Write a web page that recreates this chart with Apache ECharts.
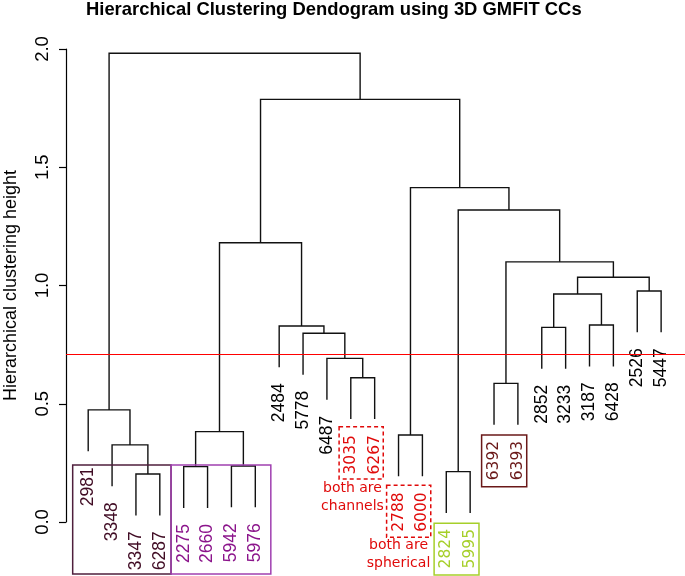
<!DOCTYPE html>
<html><head><meta charset="utf-8">
<script src="https://cdn.jsdelivr.net/npm/echarts@6/dist/echarts.min.js"></script>
<style>html,body{margin:0;padding:0;background:#fff}#c{width:685px;height:576px}</style>
</head><body><div id="c"></div>
<script>
// ---- data ----
const leafLabels = ['2981','3348','3347','6287','2275','2660','5942','5976','2484','5778','6487','3035','6267','2788','6000','2824','5995','6392','6393','2852','3233','3187','6428','2526','5447'];
const leafGroup  = ['g1','g1','g1','g1','g2','g2','g2','g2','n','n','n','red','red','red','red','green','green','brown','brown','n','n','n','n','n','n'];
// merges (R hclust style): negative = leaf position (1-based), positive = earlier merge
const mergeLeft   = [-3,-2,-1,-5,-7,4,-12,-11,-10,-9,6,-14,-16,-18,-20,-22,15,-24,17,14,13,12,11,3];
const mergeRight  = [-4,1,2,-6,-8,5,-13,7,8,9,10,-15,-17,-19,-21,-23,16,-25,18,19,20,21,22,23];
const mergeHeight = [0.203,0.326,0.474,0.234,0.237,0.382,0.610,0.692,0.798,0.829,1.181,0.368,0.213,0.586,0.823,0.833,0.964,0.977,1.035,1.100,1.319,1.414,1.787,1.982];
const hang = 0.175;
const cutHeight = 0.706;
const yTicks = [0, 0.5, 1.0, 1.5, 2.0];
const noteText = ['both are\nchannels', 'both are\nspherical'];

// ---- styles / annotation placement ----
const groupStyle = {
  g1:   {color:'#400c24', font:'17.5px "Liberation Sans", Arial, sans-serif'},
  g2:   {color:'#8b148b', font:'17.5px "Liberation Sans", Arial, sans-serif'},
  n:    {color:'#000000', font:'17.5px "Liberation Sans", Arial, sans-serif'},
  red:  {color:'#e00a0a', font:'15.5px "DejaVu Sans", sans-serif'},
  green:{color:'#a6cf2a', font:'15.5px "DejaVu Sans", sans-serif'},
  brown:{color:'#6a1818', font:'15.5px "DejaVu Sans", sans-serif'}
};
const boxes = [
  {x0:0.35, x1:4.47, y0:0.241, y1:-0.220, color:'#4f1f3c', dash:null},
  {x0:4.47, x1:8.65, y0:0.241, y1:-0.220, color:'#a040b0', dash:null},
  {x0:11.51, x1:13.36, y0:0.403, y1:0.182, color:'#e00a0a', dash:[4,3]},
  {x0:13.50, x1:15.35, y0:0.155, y1:-0.065, color:'#e00a0a', dash:[4,3]},
  {x0:15.49, x1:17.37, y0:-0.005, y1:-0.224, color:'#a6cf2a', dash:null},
  {x0:17.48, x1:19.37, y0:0.368, y1:0.149, color:'#6a1818', dash:null}
];
const notes = [
  {x:12.07, y:0.106},
  {x:14.00, y:-0.137}
];

// ---- build dendrogram geometry in data units ----
const nodeX = [];
const leafEnd = new Array(leafLabels.length);
function childX(c){ return c < 0 ? -c : nodeX[c-1]; }
const segs = [];
for (let k = 0; k < mergeHeight.length; k++) {
  const a = mergeLeft[k], b = mergeRight[k], h = mergeHeight[k];
  const xa = childX(a), xb = childX(b);
  const ya = a < 0 ? h - hang : mergeHeight[a-1];
  const yb = b < 0 ? h - hang : mergeHeight[b-1];
  if (a < 0) leafEnd[-a-1] = ya;
  if (b < 0) leafEnd[-b-1] = yb;
  nodeX.push((xa + xb) / 2);
  segs.push([xa, ya, xb, yb, h]);
}
const leafData = leafLabels.map((l, i) => [i + 1, leafEnd[i], i]);

const chart = echarts.init(document.getElementById('c'), null, {renderer:'canvas'});
chart.setOption({
  animation:false,
  backgroundColor:'#fff',
  title:{
    text:'Hierarchical Clustering Dendogram using 3D GMFIT CCs',
    left:86, top:1, padding:0,
    textStyle:{fontFamily:'"Liberation Sans", Arial, sans-serif', fontWeight:'bold', fontSize:18.4, color:'#000'}
  },
  grid:{left:66, right:0, top:49, bottom:54, containLabel:false, outerBoundsMode:'none'},
  xAxis:{type:'value', min:0.07, max:26, show:false},
  yAxis:{
    type:'value', min:yTicks[0], max:yTicks[yTicks.length-1], interval:yTicks[1]-yTicks[0],
    name:'Hierarchical clustering height', nameLocation:'middle', nameGap:46,
    nameTextStyle:{fontFamily:'"Liberation Sans", Arial, sans-serif', fontSize:18, color:'#000'},
    axisLine:{show:true, onZero:false, lineStyle:{color:'#000', width:1.2}},
    axisTick:{show:true, length:7, lineStyle:{color:'#000', width:1.2}},
    axisLabel:{rotate:90, margin:14, fontFamily:'"Liberation Sans", Arial, sans-serif', fontSize:18.5, color:'#000',
      formatter:v => v.toFixed(1)},
    splitLine:{show:false}
  },
  series:[
    {
      type:'custom', name:'dendrogram', clip:false, silent:true,
      data:segs,
      renderItem:(params, api) => {
        const xa = api.value(0), ya = api.value(1), xb = api.value(2), yb = api.value(3), h = api.value(4);
        const pts = [api.coord([xa, ya]), api.coord([xa, h]), api.coord([xb, h]), api.coord([xb, yb])];
        return {type:'polyline', shape:{points:pts}, style:{stroke:'#111', lineWidth:1.4, fill:null}};
      },
      markLine:{
        silent:true, symbol:['none','none'], label:{show:false},
        lineStyle:{color:'#ff0000', width:1.2, type:'solid'},
        data:[{yAxis:cutHeight}]
      }
    },
    {
      type:'custom', name:'labels', clip:false, silent:true,
      data:leafData,
      renderItem:(params, api) => {
        const i = api.value(2);
        const p = api.coord([api.value(0), api.value(1)]);
        const st = groupStyle[leafGroup[i]];
        return {type:'text', x:p[0], y:p[1] + 16, rotation:Math.PI/2,
          style:{text:leafLabels[i], fill:st.color, font:st.font, align:'right', verticalAlign:'middle'}};
      }
    },
    {
      type:'custom', name:'boxes', clip:false, silent:true,
      data:boxes.map((b, i) => [b.x0, b.y0, b.x1, b.y1, i]),
      renderItem:(params, api) => {
        const b = boxes[api.value(4)];
        const p0 = api.coord([api.value(0), api.value(1)]);
        const p1 = api.coord([api.value(2), api.value(3)]);
        return {type:'rect', shape:{x:p0[0], y:p0[1], width:p1[0]-p0[0], height:p1[1]-p0[1]},
          style:{stroke:b.color, lineWidth:1.5, fill:null, lineDash:b.dash || null}};
      }
    },
    {
      type:'custom', name:'notes', clip:false, silent:true,
      data:notes.map((n, i) => [n.x, n.y, i]),
      renderItem:(params, api) => {
        const i = api.value(2);
        const p = api.coord([api.value(0), api.value(1)]);
        return {type:'text', x:p[0], y:p[1],
          style:{text:noteText[i], fill:'#e00a0a', font:'14px "DejaVu Sans", sans-serif', align:'center', verticalAlign:'middle', lineHeight:18}};
      }
    }
  ]
});
</script>
</body></html>
